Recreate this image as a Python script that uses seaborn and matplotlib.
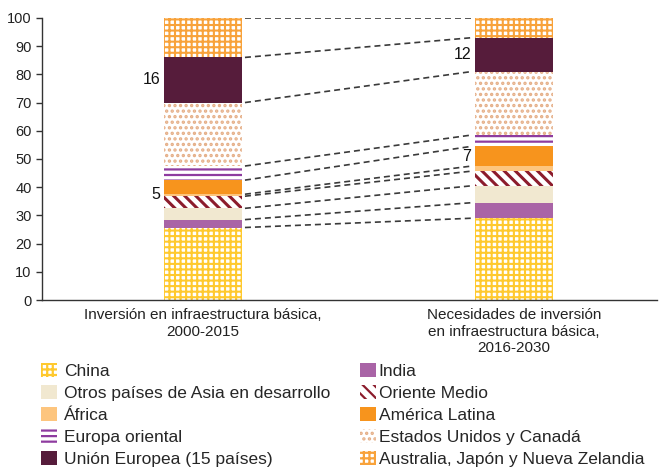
import pandas as pd
import matplotlib.pyplot as plt
import seaborn as sns
from matplotlib.patches import Patch

# --- data: share of total (%) ---
periods = ["Inversión en infraestructura básica,\n2000-2015",
           "Necesidades de inversión\nen infraestructura básica,\n2016-2030"]
regions = ["China", "India", "Otros países de Asia en desarrollo", "Oriente Medio",
           "África", "América Latina", "Europa oriental", "Estados Unidos y Canadá",
           "Unión Europea (15 países)", "Australia, Japón y Nueva Zelandia"]
share_2000_2015 = [25.7, 2.8, 4.0, 4.3, 0.7, 5.0, 5.0, 22.5, 16.0, 14.0]
share_2016_2030 = [29.0, 5.5, 6.0, 5.2, 1.8, 7.0, 4.0, 22.5, 12.0, 7.0]
labelled = ["América Latina", "Unión Europea (15 países)"]

# fill colour, hatch, hatch colour, hatch width per region
styles = {
    "China": ("white", "+++", "#FFC92E", 1.5),
    "India": ("#A964A6", None, None, 1.0),
    "Otros países de Asia en desarrollo": ("#F1E8D0", None, None, 1.0),
    "Oriente Medio": ("white", "\\\\\\", "#8C1C2C", 2.2),
    "África": ("#FDC57E", None, None, 1.0),
    "América Latina": ("#F7941D", None, None, 1.0),
    "Europa oriental": ("white", "---", "#8E3B9F", 1.6),
    "Estados Unidos y Canadá": ("white", "...", "#E5AE86", 1.6),
    "Unión Europea (15 países)": ("#561C3B", None, None, 1.0),
    "Australia, Japón y Nueva Zelandia": ("white", "+++", "#F8A23A", 1.5),
}

df = pd.DataFrame({"region": regions * 2,
                   "period": [periods[0]] * len(regions) + [periods[1]] * len(regions),
                   "share": share_2000_2015 + share_2016_2030})
df["top"] = df.groupby("period")["share"].cumsum()
df["bottom"] = df["top"] - df["share"]

sns.set_style("ticks")
plt.rcParams["font.family"] = ["Liberation Sans", "DejaVu Sans"]
plt.rcParams["hatch.linewidth"] = 1.6


def set_hatch_lw(artist, lw):
    if hasattr(artist, "set_hatch_linewidth"):
        artist.set_hatch_linewidth(lw)


fig = plt.figure(figsize=(6.59, 4.67), dpi=100)
ax = fig.add_axes([0.0637, 0.3576, 0.933, 0.604])

bar_w = 0.25
# stacked bars: draw cumulative totals from the top segment down
for reg in regions[::-1]:
    face, hatch, hcol, hlw = styles[reg]
    sub = df[df["region"] == reg]
    sns.barplot(data=sub, x="period", y="top", order=periods, color=face,
                saturation=1, width=bar_w, hatch=hatch,
                edgecolor=hcol if hcol else face, linewidth=0, ax=ax)
    for bar in ax.containers[-1]:
        set_hatch_lw(bar, hlw)

# dashed connectors between matching boundaries
tops1 = df[df["period"] == periods[0]]["top"].tolist()
tops2 = df[df["period"] == periods[1]]["top"].tolist()
for y1, y2 in zip(tops1, tops2):
    ax.plot([bar_w / 2 + 0.01, 1 - bar_w / 2 - 0.01], [y1, y2], color="#3a3a3a",
            lw=1.2, dashes=(3.6, 2.4), zorder=1)

# value labels left of the bars
for i, p in enumerate(periods):
    for reg in labelled:
        row = df[(df["period"] == p) & (df["region"] == reg)].iloc[0]
        frac = 0.0 if (i == 0 and reg == "América Latina") else 0.5
        ax.text(i - bar_w / 2 - 0.012, row["bottom"] + row["share"] * frac,
                f"{row['share']:.0f}", ha="right", va="center", fontsize=11.5, color="#111111")

ax.set_xlim(-0.518, 1.46)
ax.set_ylim(0, 100)
ax.set_yticks(range(0, 101, 10))
ax.set_xlabel("")
ax.set_ylabel("")
sns.despine(ax=ax)
for s in ["left", "bottom"]:
    ax.spines[s].set_color("#333333")
    ax.spines[s].set_linewidth(1.0)
ax.tick_params(axis="x", length=0, pad=6, labelsize=11, colors="#222222")
ax.tick_params(axis="y", length=4, width=1, color="#333333", labelsize=10.5, labelcolor="#222222")


# legend in two columns below the chart
def handle(reg):
    face, hatch, hcol, hlw = styles[reg]
    h = Patch(facecolor=face, hatch=hatch, edgecolor=hcol if hcol else face, linewidth=0)
    set_hatch_lw(h, hlw)
    return h


left_col = regions[0::2]
right_col = regions[1::2]
fig.legend([handle(r) for r in left_col], left_col, loc="upper left",
           bbox_to_anchor=(0.062, 0.222), frameon=False, fontsize=12.5, borderpad=0,
           handlelength=0.92, handleheight=0.85, handletextpad=0.4, labelspacing=0.34,
           borderaxespad=0)
fig.legend([handle(r) for r in right_col], right_col, loc="upper left",
           bbox_to_anchor=(0.547, 0.222), frameon=False, fontsize=12.5, borderpad=0,
           handlelength=0.92, handleheight=0.85, handletextpad=0.12, labelspacing=0.34,
           borderaxespad=0)

fig.savefig("out.png", dpi=100)
